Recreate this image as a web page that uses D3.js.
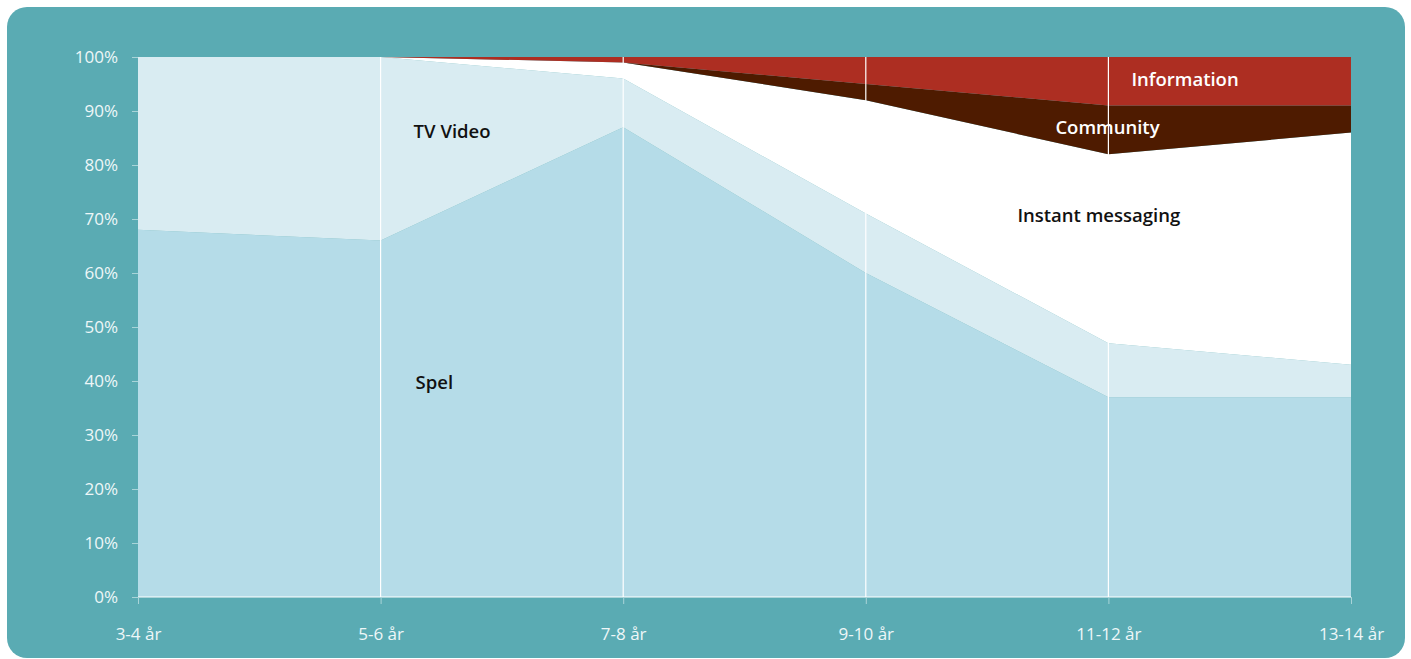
<!DOCTYPE html>
<html><head><meta charset="utf-8">
<script src="https://cdn.jsdelivr.net/npm/d3@7"></script>
<style>
html,body{margin:0;padding:0;background:#fff;}
svg{display:block;}
text{font-family:"Open Sans","Noto Sans",sans-serif;}
</style></head>
<body>
<svg id="chart" width="1411" height="659"></svg>
<script>
const categories = ["3-4 år","5-6 år","7-8 år","9-10 år","11-12 år","13-14 år"];
const seriesNames = ["Spel","TV Video","Instant messaging","Community","Information"];
const spel = [68, 66, 87, 60, 37, 37];
const tvVideo = [32, 34, 9, 11, 10, 6];
const instantMessaging = [0, 0, 3, 21, 35, 43];
const community = [0, 0, 0, 3, 9, 5];
const information = [0, 0, 1, 5, 9, 9];
const yTicks = [0,10,20,30,40,50,60,70,80,90,100];
const colors = ["#b5dce8","#d9ecf2","#ffffff","#4e1b00","#ad2e22"];

const rows = categories.map((c,i)=>({cat:c,"Spel":spel[i],"TV Video":tvVideo[i],"Instant messaging":instantMessaging[i],"Community":community[i],"Information":information[i]}));

const svg = d3.select("#chart");
svg.append("rect").attr("x",7).attr("y",7).attr("width",1398).attr("height",651).attr("rx",20).attr("fill","#5aabb3");

const x = d3.scalePoint().domain(categories).range([138,1351]);
const y = d3.scaleLinear().domain([0,100]).range([597,57]);

const stack = d3.stack().keys(seriesNames);
const layers = stack(rows);
const area = d3.area().x(d=>x(d.data.cat)).y0(d=>y(d[0])).y1(d=>y(d[1]));

svg.append("g").selectAll("path").data(layers).join("path")
  .attr("d",area).attr("fill",(d,i)=>colors[i]);

// vertical grid lines
svg.append("g").selectAll("line").data(categories.slice(1,-1)).join("line")
  .attr("x1",d=>x(d)).attr("x2",d=>x(d)).attr("y1",y(100)).attr("y2",y(0))
  .attr("stroke","#ffffff").attr("stroke-width",1.2);
svg.append("line").attr("x1",138).attr("x2",1351).attr("y1",y(0)).attr("y2",y(0)).attr("stroke","#fff").attr("stroke-width",1.2);

// y axis
const yAxis = d3.axisLeft(y).tickValues(yTicks).tickFormat(d=>d+"%").tickSize(6).tickPadding(14);
const ga = svg.append("g").attr("transform","translate(138,0)").call(yAxis);
ga.select(".domain").remove();
ga.selectAll("line").attr("stroke","#a9d4d8");
ga.selectAll("text").attr("fill","#eef7f8").attr("font-size",17).attr("font-family","'Open Sans',sans-serif");

// x axis
const xAxis = d3.axisBottom(x).tickSize(7).tickPadding(24);
const gx = svg.append("g").attr("transform","translate(0,597)").call(xAxis);
gx.select(".domain").remove();
gx.selectAll("line").attr("stroke","#a9d4d8");
gx.selectAll("text").attr("fill","#eef7f8").attr("font-size",17).attr("font-family","'Open Sans',sans-serif");

// series labels
const labels = [
  {t:"TV Video", cat:"5-6 år", dx:33, v:86.0, c:"#111"},
  {t:"Spel", cat:"5-6 år", dx:35, v:39.5, c:"#111"},
  {t:"Instant messaging", cat:"11-12 år", dx:-91, v:70.3, c:"#111"},
  {t:"Community", cat:"11-12 år", dx:-53, v:86.7, c:"#fff"},
  {t:"Information", cat:"11-12 år", dx:23, v:95.6, c:"#fff"}
];
svg.append("g").selectAll("text").data(labels).join("text")
  .attr("x",d=>x(d.cat)+d.dx).attr("y",d=>y(d.v))
  .attr("fill",d=>d.c).attr("font-size",18.5).attr("font-weight",600)
  .attr("dominant-baseline","middle")
  .text(d=>d.t);
</script>
</body></html>
